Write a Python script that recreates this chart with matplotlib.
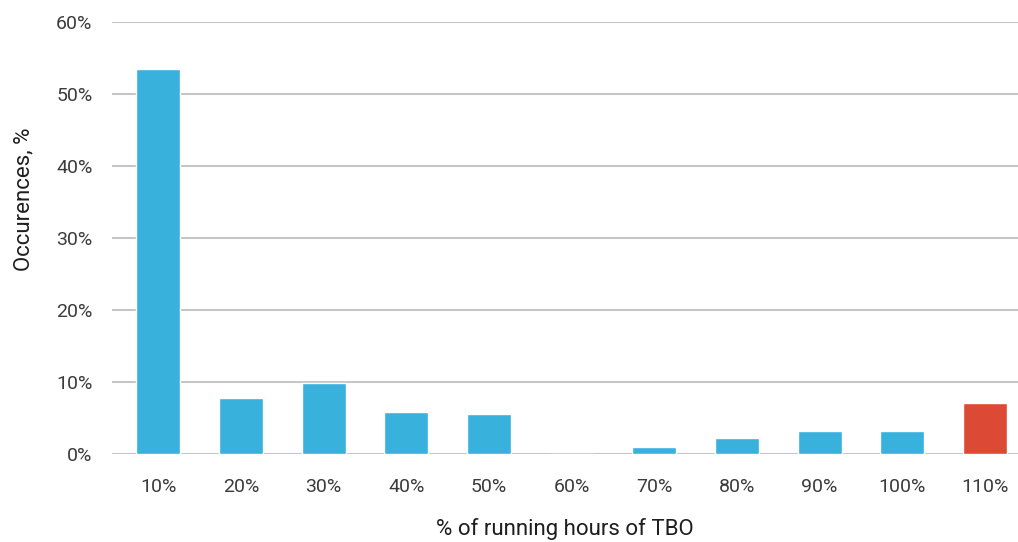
import matplotlib
matplotlib.use("Agg")
import matplotlib.pyplot as plt
from matplotlib.ticker import PercentFormatter

plt.rcParams['font.family'] = ['Roboto', 'DejaVu Sans']

# Dados
categorias = ['10%', '20%', '30%', '40%', '50%', '60%', '70%', '80%', '90%', '100%', '110%']
ocorrencias = [53.5, 7.8, 9.9, 5.8, 5.6, 0.0, 1.0, 2.2, 3.2, 3.2, 7.1]
cores = ['#38b1dc'] * 10 + ['#dc4a36']

fig = plt.figure(figsize=(10.18, 5.42), dpi=100)
ax = fig.add_axes([112 / 1018, 1 - 454 / 542, (1018 - 112) / 1018, (454 - 22) / 542])

x = list(range(len(categorias)))
ax.bar(x, ocorrencias, width=0.53, color=cores, edgecolor='white', linewidth=1, zorder=3)

ax.set_ylim(0, 60)
ax.set_xlim(-0.56, 10.4)
ax.set_yticks([0, 10, 20, 30, 40, 50, 60])
ax.yaxis.set_major_formatter(PercentFormatter(decimals=0))
ax.set_xticks(x)
ax.set_xticklabels(categorias)

ax.grid(axis='y', color='#c3c6ca', linewidth=1.5, zorder=0)
for s in ax.spines.values():
    s.set_visible(False)
ax.tick_params(length=0, labelsize=14, colors='#3c3c3c')
ax.tick_params(axis='x', pad=17)
ax.tick_params(axis='y', pad=14)

ax.set_xlabel('% of running hours of TBO', fontsize=16, color='#1e1e1e', labelpad=16)
ax.set_ylabel('Occurences, %', fontsize=16, color='#1e1e1e')
ax.yaxis.set_label_coords(-0.086, 0.59)

fig.savefig('out.png', dpi=100)
